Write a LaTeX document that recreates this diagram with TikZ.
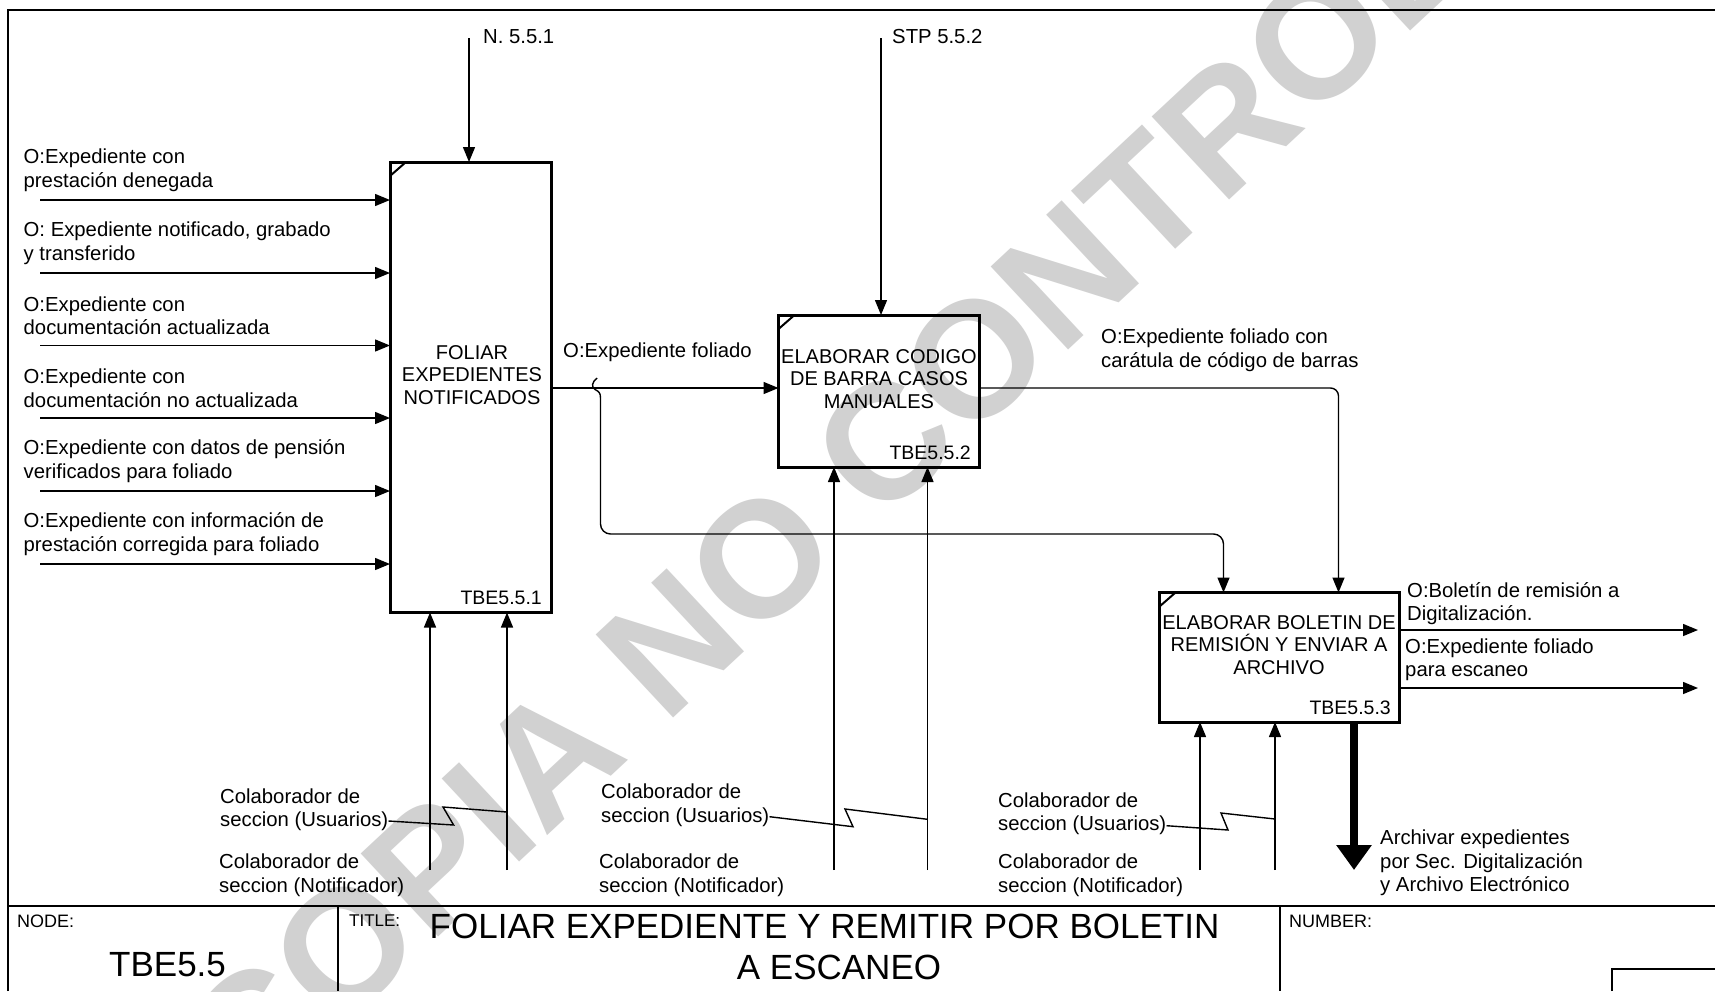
\documentclass[tikz,border=0pt]{standalone}
\usepackage{fontspec}
\setmainfont{Liberation Sans}
\usetikzlibrary{arrows.meta,calc}
\begin{document}
\begin{tikzpicture}[x=1pt,y=-1pt,
  boxst/.style={draw,line width=3pt,inner sep=0pt,outer sep=0pt},
  arr/.style={line width=1.4pt,-{Triangle[length=15pt,width=12pt]}},
  thickarr/.style={line width=8pt,-{Triangle[length=25pt,width=34pt]}},
  ln/.style={line width=1.4pt},
  frame/.style={line width=2pt},
  corner/.style={line width=2pt},
  lbl/.style={inner sep=0pt,align=left,anchor=west,font=\fontsize{20.3}{23.5}\selectfont},
  boxtxt/.style={inner sep=0pt,align=center,font=\fontsize{20}{22.5}\selectfont},
  idtxt/.style={inner sep=0pt,anchor=east,font=\fontsize{19.5}{22.5}\selectfont},
  hdr/.style={inner sep=0pt,anchor=west,font=\fontsize{18}{20}\selectfont},
  big/.style={inner sep=0pt,font=\fontsize{35}{41.5}\selectfont},
  wmark/.style={inner sep=0pt,rotate=43,text=black!18,font=\fontsize{165}{165}\selectfont\bfseries}
]
\useasboundingbox (0,0) rectangle (1715,991);
\fill[white] (0,0) rectangle (1715,991);

% watermark
\node[wmark] (wm) at (955,378) {COPIA NO CONTROLADA};

% frame and title block
\coordinate (ftl) at (8,10);
\coordinate (ftr) at (1715,10);
\coordinate (fbl) at (8,991);
\draw[frame] (fbl) -- (ftl) -- (ftr);
\coordinate (tbl) at (8,906);
\coordinate (tbr) at (1715,906);
\draw[frame] (tbl) -- (tbr);
\coordinate (d1t) at (338,906);
\coordinate (d1b) at (338,991);
\coordinate (d2t) at (1280,906);
\coordinate (d2b) at (1280,991);
\draw[frame] (d1t) -- (d1b);
\draw[frame] (d2t) -- (d2b);
\coordinate (sb1) at (1612,991);
\coordinate (sb2) at (1612,969);
\coordinate (sb3) at (1715,969);
\draw[ln] (sb1) -- (sb2) -- (sb3);

\node[hdr] (nodelbl) at (17,921) {NODE:};
\node[big,anchor=west] (nodeid) at (109,965) {TBE5.5};
\node[hdr,font=\fontsize{17}{20}\selectfont] (titlelbl) at (349,921) {TITLE:};
\node[big,align=center] (title) at (824.5,947) {FOLIAR EXPEDIENTE Y REMITIR POR BOLETIN\\\hspace*{29pt}A ESCANEO};
\node[hdr] (numlbl) at (1289,921) {NUMBER:};

% boxes
\node[boxst,minimum width=161pt,minimum height=450.5pt] (b1) at (470.5,387.25) {};
\node[boxst,minimum width=201pt,minimum height=152pt] (b2) at (879,391) {};
\node[boxst,minimum width=239.5pt,minimum height=129.5pt] (b3) at (1279.25,657.25) {};
\foreach \b in {b1,b2,b3}{
  \draw[corner] ($(\b.north west)+(0,14)$) -- ($(\b.north west)+(16,0)$);
}
\node[boxtxt] (t1) at (472,375) {FOLIAR\\EXPEDIENTES\\NOTIFICADOS};
\node[idtxt] (id1) at (542,598) {TBE5.5.1};
\node[boxtxt] (t2) at (879,379) {ELABORAR CODIGO\\DE BARRA CASOS\\MANUALES};
\node[idtxt] (id2) at (971,453) {TBE5.5.2};
\node[boxtxt] (t3) at (1279,645) {ELABORAR BOLETIN DE\\REMISIÓN Y ENVIAR A\\ARCHIVO};
\node[idtxt] (id3) at (1391,708) {TBE5.5.3};

% controls
\coordinate (c1) at (469,38);
\coordinate (c2) at (881,38);
\draw[arr] (c1) -- (c1 |- b1.north);
\draw[arr] (c2) -- (c2 |- b2.north);
\node[lbl] (c1l) at (483,37) {N. 5.5.1};
\node[lbl] (c2l) at (892,37) {STP 5.5.2};

% inputs to box 1
\foreach \i/\y/\t in {
  1/200/{O:Expediente con\\prestación denegada},
  2/273/{O: Expediente notificado, grabado\\y transferido},
  3/345.5/{O:Expediente con\\documentación actualizada},
  4/418/{O:Expediente con\\documentación no actualizada},
  5/491/{O:Expediente con datos de pensión\\verificados para foliado},
  6/564/{O:Expediente con información de\\prestación corregida para foliado}}{
  \coordinate (in\i) at (40,\y);
  \draw[arr] (in\i) -- (in\i -| b1.west);
  \node[lbl] (inl\i) at (23.5,\y-30) {\t};
}

% box1 -> box2
\coordinate (o1) at (551,388);
\draw[arr] (b1.east |- o1) -- (b2.west |- o1);
\node[lbl] (o1l) at (563,352) {O:Expediente foliado};

% branch box1 output -> box3
\coordinate (br0) at (597,378);
\coordinate (br1) at (600.5,398);
\coordinate (br2) at (600.5,534);
\coordinate (br3) at (1223.5,534);
\draw[ln] (br0) .. controls (592,382) and (591,387) .. (595,389.5)
  .. controls (599,391.5) and (600.5,393) .. (br1);
\draw[arr,rounded corners=10pt] (br1) -- (br2) -- (br3) -- (br3 |- b3.north);

% box2 -> box3
\coordinate (o2) at (1338.5,388);
\draw[arr,rounded corners=8pt] (b2.east |- o2) -- (o2) -- (o2 |- b3.north);
\node[lbl] (o2l) at (1101,350) {O:Expediente foliado con\\carátula de código de barras};

% box3 outputs
\coordinate (o3a) at (1698,630);
\coordinate (o3b) at (1698,688);
\draw[arr] (b3.east |- o3a) -- (o3a);
\draw[arr] (b3.east |- o3b) -- (o3b);
\node[lbl] (o3al) at (1407,603.5) {O:Boletín de remisión a\\Digitalización.};
\node[lbl] (o3bl) at (1405,659.5) {O:Expediente foliado\\para escaneo};

% mechanisms
\coordinate (m11) at (430,870);
\coordinate (m12) at (507,870);
\coordinate (m21) at (834,870);
\coordinate (m22) at (927.5,870);
\coordinate (m31) at (1200,870);
\coordinate (m32) at (1275,870);
\draw[arr] (m11) -- (m11 |- b1.south);
\draw[arr] (m12) -- (m12 |- b1.south);
\draw[arr] (m21) -- (m21 |- b2.south);
\draw[arr] (m22) -- (m22 |- b2.south);
\draw[arr] (m31) -- (m31 |- b3.south);
\draw[arr] (m32) -- (m32 |- b3.south);

\node[lbl] (u1) at (220,809.5) {Colaborador de\\seccion (Usuarios)};
\node[lbl] (n1) at (219,875) {Colaborador de\\seccion (Notificador)};
\node[lbl] (u2) at (601,805) {Colaborador de\\seccion (Usuarios)};
\node[lbl] (n2) at (599,875) {Colaborador de\\seccion (Notificador)};
\node[lbl] (u3) at (998,813.5) {Colaborador de\\seccion (Usuarios)};
\node[lbl] (n3) at (998,875) {Colaborador de\\seccion (Notificador)};

\draw[ln] (u1.east |- 0,821) -- (453.6,825) -- (443,807) -- (m12 |- 0,812);
\draw[ln] (u2.east |- 0,816.7) -- (853,826.7) -- (845,809) -- (m22 |- 0,819.3);
\draw[ln] (u3.east |- 0,825.7) -- (1228,830) -- (1221,813) -- (m32 |- 0,819);

% thick output from box3
\coordinate (ar) at (1354,870);
\draw[thickarr] (b3.south -| ar) -- (ar);
\node[lbl] (arl) at (1380,863) {Archivar expedientes\\por Sec. Digitalización\\y Archivo Electrónico};
\end{tikzpicture}
\end{document}
